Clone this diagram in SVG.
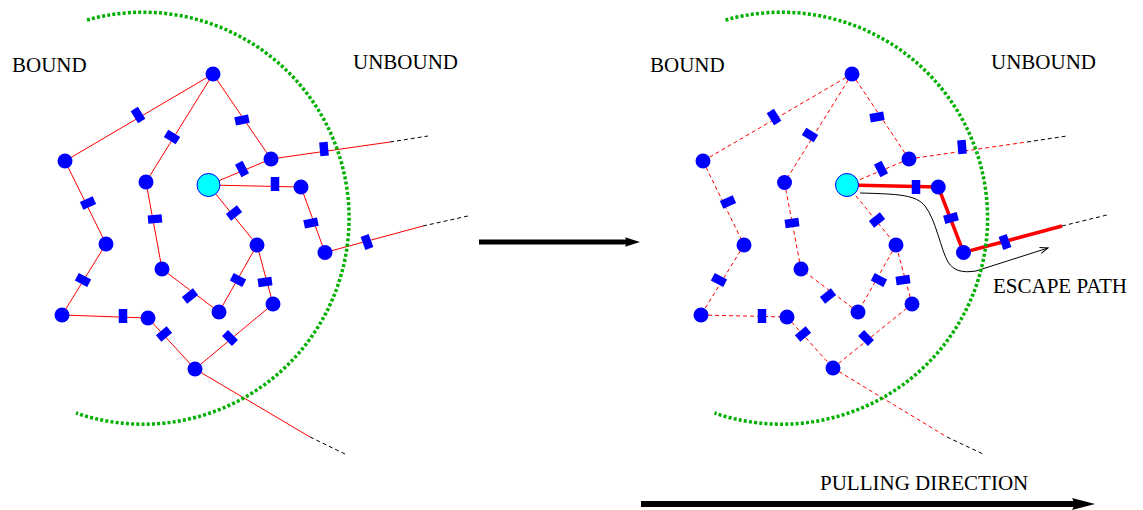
<svg xmlns="http://www.w3.org/2000/svg" xmlns:xlink="http://www.w3.org/1999/xlink" width="1143" height="510" viewBox="0 0 1143 510">
<style>
.bond{stroke:#ff0000;stroke-width:1;fill:none}
.bd{stroke:#ff0000;stroke-width:1;stroke-dasharray:4 3;fill:none}
.bt{stroke:#ff0000;stroke-width:3.5;fill:none}
.tail{stroke:#000000;stroke-width:1;stroke-dasharray:4 3;fill:none}
.arc{stroke:#00b000;stroke-width:3.5;stroke-dasharray:3 2.2;fill:none}
.node{fill:#0000ff}
.ctr{fill:#00ffff;stroke:#0000ff;stroke-width:1}
.lbl{font-family:"Liberation Serif","Times New Roman",serif;font-size:21px;fill:#000000}
</style>
<defs>
<rect id="bar" x="-7" y="-4.25" width="14" height="8.5" fill="#0000ff"/>
<marker id="ah1" viewBox="-3 -6 17 12" refX="0" refY="0" markerWidth="17" markerHeight="12" markerUnits="userSpaceOnUse" orient="auto">
<path d="M-2,-4.8 L13,0 L-2,4.8 L0,0 z" fill="#000000"/>
</marker>
<marker id="ah2" viewBox="-4 -7 26 14" refX="0" refY="0" markerWidth="26" markerHeight="14" markerUnits="userSpaceOnUse" orient="auto">
<path d="M-3,-6 L20,0 L-3,6 L0,0 z" fill="#000000"/>
</marker>
<marker id="ah3" viewBox="-10 -5 12 10" refX="0" refY="0" markerWidth="12" markerHeight="10" markerUnits="userSpaceOnUse" orient="auto">
<path d="M-8,-3 L0,0 L-8,3" fill="none" stroke="#000000" stroke-width="1"/>
</marker>
</defs>

<g id="connectors">
<g id="left-bonds">
<line class="bond" x1="213" y1="74" x2="65" y2="161"/>
<line class="bond" x1="213" y1="74" x2="146" y2="182"/>
<line class="bond" x1="213" y1="74" x2="271" y2="159"/>
<line class="bond" x1="65" y1="161" x2="106" y2="244"/>
<line class="bond" x1="106" y1="244" x2="62" y2="315"/>
<line class="bond" x1="62" y1="315" x2="148" y2="318"/>
<line class="bond" x1="148" y1="318" x2="195" y2="369"/>
<line class="bond" x1="195" y1="369" x2="273" y2="304"/>
<line class="bond" x1="273" y1="304" x2="257" y2="245"/>
<line class="bond" x1="257" y1="245" x2="219" y2="312"/>
<line class="bond" x1="219" y1="312" x2="162" y2="269"/>
<line class="bond" x1="162" y1="269" x2="146" y2="182"/>
<line class="bond" x1="208.5" y1="185" x2="271" y2="159"/>
<line class="bond" x1="208.5" y1="185" x2="301" y2="187"/>
<line class="bond" x1="208.5" y1="185" x2="257" y2="245"/>
<line class="bond" x1="301" y1="187" x2="325" y2="252.5"/>
<line class="bond" x1="271" y1="159" x2="390" y2="142"/>
<line class="tail" x1="390" y1="142" x2="428" y2="136"/>
<line class="bond" x1="325" y1="252.5" x2="423" y2="226"/>
<line class="tail" x1="423" y1="226" x2="468" y2="216"/>
<line class="bond" x1="195" y1="369" x2="310" y2="437"/>
<line class="tail" x1="310" y1="437" x2="345" y2="454"/>
</g>
<g id="right-bonds">
<line class="bd" x1="852" y1="74" x2="703" y2="161"/>
<line class="bd" x1="852" y1="74" x2="784.5" y2="182.5"/>
<line class="bd" x1="852" y1="74" x2="909" y2="159"/>
<line class="bd" x1="703" y1="161" x2="744" y2="245"/>
<line class="bd" x1="744" y1="245" x2="701" y2="315"/>
<line class="bd" x1="701" y1="315" x2="787" y2="317"/>
<line class="bd" x1="787" y1="317" x2="833" y2="368"/>
<line class="bd" x1="833" y1="368" x2="912" y2="304"/>
<line class="bd" x1="912" y1="304" x2="896" y2="245"/>
<line class="bd" x1="896" y1="245" x2="858" y2="312"/>
<line class="bd" x1="858" y1="312" x2="801" y2="269"/>
<line class="bd" x1="801" y1="269" x2="784.5" y2="182.5"/>
<line class="bd" x1="847" y1="185" x2="909" y2="159"/>
<line class="bd" x1="847" y1="185" x2="896" y2="245"/>
<line class="bd" x1="909" y1="159" x2="1027" y2="142"/>
<line class="tail" x1="1027" y1="142" x2="1067" y2="136"/>
<line class="bd" x1="833" y1="368" x2="947" y2="437"/>
<line class="tail" x1="947" y1="437" x2="983" y2="454"/>
<polyline class="bt" points="847,185 938.3,187 963.5,252.5 1062,226"/>
<line class="tail" x1="1062" y1="226" x2="1107" y2="215"/>
</g>
<g id="bars">
<use xlink:href="#bar" transform="translate(138,115) rotate(58)"/>
<use xlink:href="#bar" transform="translate(172,137) rotate(32)"/>
<use xlink:href="#bar" transform="translate(242,120) rotate(-12)"/>
<use xlink:href="#bar" transform="translate(88,203) rotate(-24)"/>
<use xlink:href="#bar" transform="translate(83,280) rotate(28)"/>
<use xlink:href="#bar" transform="translate(123,316) rotate(90)"/>
<use xlink:href="#bar" transform="translate(164,334) rotate(-40)"/>
<use xlink:href="#bar" transform="translate(230,338) rotate(45)"/>
<use xlink:href="#bar" transform="translate(265,282) rotate(-8)"/>
<use xlink:href="#bar" transform="translate(238,280) rotate(27)"/>
<use xlink:href="#bar" transform="translate(190,296) rotate(-38)"/>
<use xlink:href="#bar" transform="translate(155,219) rotate(-5)"/>
<use xlink:href="#bar" transform="translate(242,169) rotate(62)"/>
<use xlink:href="#bar" transform="translate(275,184) rotate(90)"/>
<use xlink:href="#bar" transform="translate(234,213) rotate(-38)"/>
<use xlink:href="#bar" transform="translate(311,223) rotate(-12)"/>
<use xlink:href="#bar" transform="translate(324,149) rotate(85)"/>
<use xlink:href="#bar" transform="translate(367,242) rotate(70)"/>

<use xlink:href="#bar" transform="translate(774,117) rotate(58)"/>
<use xlink:href="#bar" transform="translate(810,135) rotate(32)"/>
<use xlink:href="#bar" transform="translate(877,117) rotate(-10)"/>
<use xlink:href="#bar" transform="translate(728,202) rotate(-24)"/>
<use xlink:href="#bar" transform="translate(719,280) rotate(28)"/>
<use xlink:href="#bar" transform="translate(762,316) rotate(90)"/>
<use xlink:href="#bar" transform="translate(803,334) rotate(-40)"/>
<use xlink:href="#bar" transform="translate(866,338) rotate(45)"/>
<use xlink:href="#bar" transform="translate(903,280) rotate(-8)"/>
<use xlink:href="#bar" transform="translate(879,280) rotate(27)"/>
<use xlink:href="#bar" transform="translate(828,296) rotate(-38)"/>
<use xlink:href="#bar" transform="translate(792,223) rotate(-8)"/>
<use xlink:href="#bar" transform="translate(881,169) rotate(62)"/>
<use xlink:href="#bar" transform="translate(916,187) rotate(90)"/>
<use xlink:href="#bar" transform="translate(877,220) rotate(-38)"/>
<use xlink:href="#bar" transform="translate(951,218) rotate(-15)"/>
<use xlink:href="#bar" transform="translate(962,147) rotate(85)"/>
<use xlink:href="#bar" transform="translate(1005,242) rotate(70)"/>
</g>
<path id="escape-path" d="M860,193 C900,194 916,195 925,206 C936,220 941,250 948,262 C954,271 962,273 976,271 L1048,248" fill="none" stroke="#000000" stroke-width="1" marker-end="url(#ah3)"/>
<line id="middle-arrow" x1="479" y1="242" x2="627" y2="242" stroke="#000000" stroke-width="5" marker-end="url(#ah1)"/>
<line id="pulling-arrow" x1="641" y1="504" x2="1075" y2="504" stroke="#000000" stroke-width="6" marker-end="url(#ah2)"/>
</g>

<g id="boundaries">
<path class="arc" d="M87,20 A206,206 0 1 1 76,413"/>
<path class="arc" d="M725.5,20 A206,206 0 1 1 714.5,413"/>
</g>

<g id="left-nodes">
<g id="L-A"><circle class="node" cx="213" cy="74" r="7.5"/></g>
<g id="L-B"><circle class="node" cx="65" cy="161" r="7.5"/></g>
<g id="L-C"><circle class="node" cx="106" cy="244" r="7.5"/></g>
<g id="L-D"><circle class="node" cx="62" cy="315" r="7.5"/></g>
<g id="L-E"><circle class="node" cx="148" cy="318" r="7.5"/></g>
<g id="L-F"><circle class="node" cx="195" cy="369" r="7.5"/></g>
<g id="L-G"><circle class="node" cx="273" cy="304" r="7.5"/></g>
<g id="L-H"><circle class="node" cx="257" cy="245" r="7.5"/></g>
<g id="L-I"><circle class="node" cx="219" cy="312" r="7.5"/></g>
<g id="L-J"><circle class="node" cx="162" cy="269" r="7.5"/></g>
<g id="L-K"><circle class="node" cx="146" cy="182" r="7.5"/></g>
<g id="L-L"><circle class="node" cx="271" cy="159" r="7.5"/></g>
<g id="L-M"><circle class="node" cx="301" cy="187" r="7.5"/></g>
<g id="L-N"><circle class="node" cx="325" cy="252.5" r="7.5"/></g>
<g id="L-center"><circle class="ctr" cx="208.5" cy="185" r="11.5"/></g>
</g>

<g id="right-nodes">
<g id="R-A"><circle class="node" cx="852" cy="74" r="7.5"/></g>
<g id="R-B"><circle class="node" cx="703" cy="161" r="7.5"/></g>
<g id="R-C"><circle class="node" cx="744" cy="245" r="7.5"/></g>
<g id="R-D"><circle class="node" cx="701" cy="315" r="7.5"/></g>
<g id="R-E"><circle class="node" cx="787" cy="317" r="7.5"/></g>
<g id="R-F"><circle class="node" cx="833" cy="368" r="7.5"/></g>
<g id="R-G"><circle class="node" cx="912" cy="304" r="7.5"/></g>
<g id="R-H"><circle class="node" cx="896" cy="245" r="7.5"/></g>
<g id="R-I"><circle class="node" cx="858" cy="312" r="7.5"/></g>
<g id="R-J"><circle class="node" cx="801" cy="269" r="7.5"/></g>
<g id="R-K"><circle class="node" cx="784.5" cy="182.5" r="7.5"/></g>
<g id="R-L"><circle class="node" cx="909" cy="159" r="7.5"/></g>
<g id="R-M"><circle class="node" cx="938.3" cy="187" r="7.5"/></g>
<g id="R-N"><circle class="node" cx="963.5" cy="252.5" r="7.5"/></g>
<g id="R-center"><circle class="ctr" cx="847" cy="185" r="11.5"/></g>
</g>

<g id="labels">
<text class="lbl" x="12" y="72">BOUND</text>
<text class="lbl" x="353" y="69">UNBOUND</text>
<text class="lbl" x="650" y="72">BOUND</text>
<text class="lbl" x="991" y="69">UNBOUND</text>
<text class="lbl" x="993" y="293">ESCAPE PATH</text>
<text class="lbl" x="820" y="490">PULLING DIRECTION</text>
</g>
</svg>
